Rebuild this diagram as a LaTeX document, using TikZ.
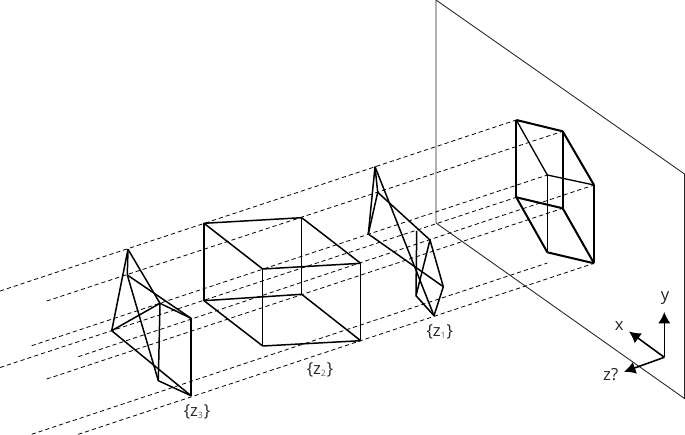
\documentclass[tikz,border=0pt]{standalone}
\usepackage{fontspec}
\setmainfont{Open Sans}
\usetikzlibrary{arrows.meta}
\tikzset{
    planeline/.style={line width=0.5pt, black!85},
    rayline/.style={line width=0.45pt, dash pattern=on 2.4pt off 1.7pt, black},
    edgeline/.style={line width=0.85pt, line join=round},
    edgethin/.style={line width=0.65pt, line join=round},
    imgline/.style={line width=1.15pt, line join=round},
    imgthin/.style={line width=0.75pt, line join=round},
    axisline/.style={line width=0.9pt, -{Latex[length=6.5pt,width=7pt]}},
    deplabel/.style={font=\fontsize{9.5}{11}\selectfont, inner sep=0pt, black!85}
}
\newcommand{\depth}[1]{\{z\textsubscript{\fontsize{5}{6}\selectfont\color{black!60}#1}\}}
\begin{document}
\begin{tikzpicture}[x=0.02cm,y=-0.02cm]
    \useasboundingbox (0,0) rectangle (685,435);

    % Image plane
    \coordinate (pa) at (436,0);
    \coordinate (pb) at (684.5,174);
    \coordinate (pc) at (684.5,398.5);
    \coordinate (pd) at (436,223);
    \draw[planeline] (pd) -- (pa) -- (pb) -- (pc) -- (pd);

    % Image of the cube
    \coordinate (ia) at (516.3,120);
    \coordinate (ib) at (562.7,131.3);
    \coordinate (ic) at (594,185);
    \coordinate (id) at (547.3,175);
    \coordinate (ie) at (516.3,197.3);
    \coordinate (if) at (562.7,208.3);
    \coordinate (ig) at (594,263.3);
    \coordinate (ih) at (547.3,252.3);
    \foreach \p/\q in {ia/ib, ib/ic, ia/ie, ib/if, ie/if, if/ig, ih/ig, ie/ih}
        \draw[imgline] (\p) -- (\q);
    \foreach \p/\q in {ia/id, id/ic, id/ih, ic/ig}
        \draw[imgthin] (\p) -- (\q);

    % Box at depth z2
    \coordinate (ba) at (204,223.3);
    \coordinate (bb) at (301.7,217.7);
    \coordinate (bc) at (360.7,263.3);
    \coordinate (bd) at (262.7,269);
    \coordinate (be) at (204,300.7);
    \coordinate (bf) at (301.7,294.3);
    \coordinate (bg) at (360.7,340.7);
    \coordinate (bh) at (262.7,346);
    \foreach \p/\q in {ba/bb, bb/bc, bc/bd, bd/ba, ba/be, bc/bg, be/bf, bf/bg, bg/bh, bh/be}
        \draw[edgeline] (\p) -- (\q);
    \foreach \p/\q in {bd/bh, bb/bf}
        \draw[edgethin] (\p) -- (\q);

    % Squeezed box at depth z1
    \coordinate (ua) at (375,166.7);
    \coordinate (ub) at (377.7,192.3);
    \coordinate (uc) at (430,240);
    \coordinate (ud) at (368.3,234);
    \coordinate (ue) at (416.7,231);
    \coordinate (uf) at (416,295.7);
    \coordinate (ug) at (443.3,286.7);
    \coordinate (uh) at (434,315.7);
    \foreach \p/\q in {ua/ub, ua/ud, ub/ud, ua/uh, ub/uc, ud/ug, uc/ug, uc/uf, ue/uf, uf/uh, ug/uh}
        \draw[edgeline] (\p) -- (\q);

    % Squeezed box at depth z3
    \coordinate (va) at (128,249.3);
    \coordinate (vb) at (127.3,275);
    \coordinate (vc) at (191,318.3);
    \coordinate (vd) at (111.7,330.7);
    \coordinate (ve) at (160,303.3);
    \coordinate (vf) at (158.3,380.7);
    \coordinate (vh) at (191,395.7);
    \foreach \p/\q in {va/vb, va/vd, va/ve, ve/vc, vb/vc, vb/vf, vd/ve, vd/vh, ve/vf, vc/vh, vf/vh}
        \draw[edgeline] (\p) -- (\q);

    % Projection rays
    \coordinate (ra) at (0,291);
    \coordinate (rb) at (46.7,301);
    \coordinate (rc) at (31.7,345.7);
    \coordinate (rd) at (0,367.5);
    \coordinate (re) at (78.3,356.7);
    \coordinate (rf) at (46.7,379);
    \coordinate (rg) at (31.7,434.3);
    \coordinate (rh) at (78.3,434.3);
    \coordinate (ix) at (547.3,263);
    \foreach \p/\q in {ra/ia, rb/ib, rc/id, rd/ie, re/ic, rf/if, rg/ix, rh/ig}
        \draw[rayline] (\p) -- (\q);

    % Axes
    \coordinate (origin) at (664.3,357.3);
    \coordinate (ytip) at (664.3,312);
    \coordinate (xtip) at (629,331.5);
    \coordinate (ztip) at (624,371.8);
    \draw[axisline] (origin) -- (ytip);
    \draw[axisline] (origin) -- (xtip);
    \draw[axisline] (origin) -- (ztip);
    \node[deplabel] (ylabel) at (665,298) {y};
    \node[deplabel] (xlabel) at (619.3,326.5) {x};
    \node[deplabel] (zlabel) at (610.7,374.5) {z?};

    % Depth labels
    \node[deplabel] (zthree) at (197,412) {\depth{3}};
    \node[deplabel] (ztwo) at (320,370) {\depth{2}};
    \node[deplabel] (zone) at (439.7,331.7) {\depth{1}};
\end{tikzpicture}
\end{document}
